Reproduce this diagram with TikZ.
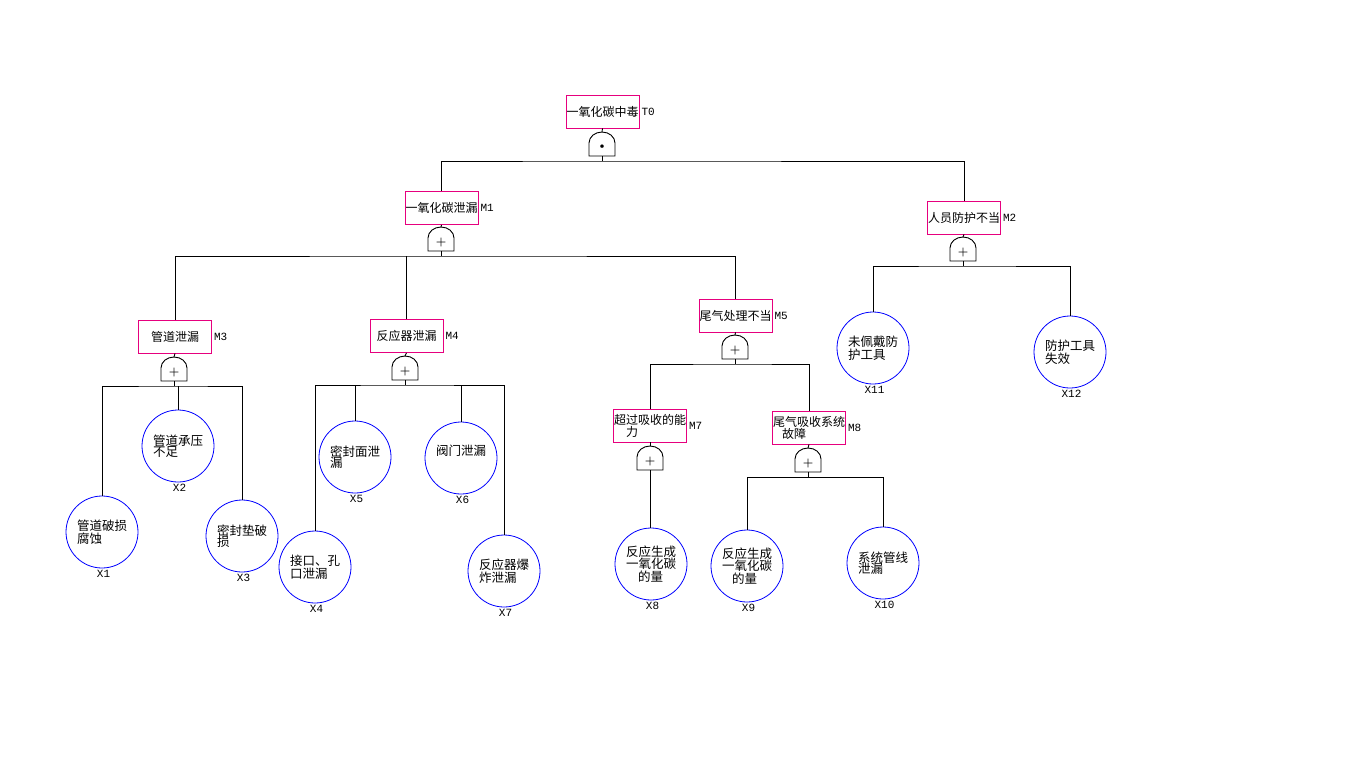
\documentclass[tikz,border=0pt]{standalone}
\usepackage{fontspec}
\newfontfamily\cjk{Noto Sans CJK SC}
\newfontfamily\labfont{Liberation Mono}
\usetikzlibrary{positioning}

\definecolor{boxpink}{RGB}{230,0,126}
\definecolor{evblue}{RGB}{0,0,255}

\tikzset{
  event/.style={draw=boxpink, line width=0.8pt, minimum width=73pt, minimum height=33pt,
    inner sep=0.5pt, align=left, font=\cjk\fontsize{12}{12}\selectfont},
  basic/.style={circle, draw=evblue, line width=0.8pt, minimum size=72pt, inner sep=0pt,
    align=left, font=\cjk\fontsize{12.5}{11.5}\selectfont},
  tag/.style={font=\labfont\fontsize{11}{11}\selectfont, inner sep=1pt},
  link/.style={line width=0.9pt},
  pics/gate/.style={code={
    \draw[link] (-13,0) -- (-13,13) arc[start angle=180, end angle=0, x radius=13pt, y radius=11pt] -- (13,0) -- cycle;
    \coordinate (-top) at (0,24);
    \coordinate (-bot) at (0,0);
    \coordinate (-bus) at (0,-5);
    \node[inner sep=0pt, font=\bfseries\fontsize{12}{12}\selectfont] (-sign) at (0,9) {#1};
  }},
}

\begin{document}
\begin{tikzpicture}[x=1pt, y=1pt]
  \useasboundingbox (0,0) rectangle (1362,-764);

  % top event and intermediate events
  \node[event] (t0) at (602.5,-111.5) {一氧化碳中毒};
  \node[event] (m1) at (441.5,-208) {一氧化碳泄漏};
  \node[event] (m2) at (964,-217.5) {人员防护不当};
  \node[event] (m3) at (175,-336.5) {管道泄漏};
  \node[event] (m4) at (406.5,-336) {反应器泄漏};
  \node[event] (m5) at (735.5,-315.5) {尾气处理不当};
  \node[event] (m7) at (650,-425.5) {超过吸收的能\\\hspace{12pt}力};
  \node[event] (m8) at (809,-427.5) {尾气吸收系统\\\hspace{9pt}故障};

  \node[tag, right=1pt of t0] (t0t) {T0};
  \node[tag, right=1pt of m1] (m1t) {M1};
  \node[tag, right=1pt of m2] (m2t) {M2};
  \node[tag, right=1pt of m3] (m3t) {M3};
  \node[tag, right=1pt of m4] (m4t) {M4};
  \node[tag, right=1pt of m5] (m5t) {M5};
  \node[tag, right=1pt of m7] (m7t) {M7};
  \node[tag, right=1pt of m8] (m8t) {M8};

  % gates
  \pic (g0) at (602,-156) {gate=\textbullet};
  \pic (g1) at (441,-251) {gate=+};
  \pic (g2) at (963,-261) {gate=+};
  \pic (g3) at (174,-381) {gate=+};
  \pic (g4) at (405,-380) {gate=+};
  \pic (g5) at (735,-359) {gate=+};
  \pic (g7) at (650,-470) {gate=+};
  \pic (g8) at (808,-472) {gate=+};

  % basic events
  \node[basic] (x1) at (102,-532) {管道破损\\腐蚀};
  \node[basic] (x2) at (178,-446) {管道承压\\不足};
  \node[basic] (x3) at (242,-536) {密封垫破\\损};
  \node[basic] (x4) at (315,-567) {接口、孔\\口泄漏};
  \node[basic] (x5) at (355,-457) {密封面泄\\漏};
  \node[basic] (x6) at (461,-458) {阀门泄漏\\\strut};
  \node[basic] (x7) at (504,-571) {反应器爆\\炸泄漏};
  \node[basic] (x8) at (651,-564) {反应生成\\一氧化碳\\\hspace{12pt}的量};
  \node[basic] (x9) at (747,-566) {反应生成\\一氧化碳\\\hspace{10pt}的量};
  \node[basic] (x10) at (883,-563) {系统管线\\泄漏};
  \node[basic] (x11) at (873,-348) {未佩戴防\\护工具};
  \node[basic] (x12) at (1070,-352) {防护工具\\失效};

  \foreach \n/\t in {x1/X1,x2/X2,x3/X3,x4/X4,x5/X5,x6/X6,x7/X7,x8/X8,x9/X9,x10/X10,x11/X11,x12/X12}
    \node[tag, below=1pt of \n, xshift=1.5pt] (\n t) {\t};

  % connectors
  \foreach \e/\g in {t0/g0,m1/g1,m2/g2,m3/g3,m4/g4,m5/g5,m7/g7,m8/g8}
    \draw[link] (\e.south) -- (\g-top);
  \foreach \g in {g0,g1,g2,g3,g4,g5,g8}
    \draw[link] (\g-bot) -- (\g-bus);

  \draw[link] (m1.north) |- (g0-bus) -| (m2.north);
  \draw[link] (m3.north) |- (g1-bus) -| (m5.north);
  \draw[link] (m4.north) -- (m4.north |- g1-bus);
  \draw[link] (x11.north) |- (g2-bus) -| (x12.north);
  \draw[link] (x1.north) |- (g3-bus) -| (x3.north);
  \draw[link] (x2.north) -- (x2.north |- g3-bus);
  \draw[link] (x4.north) |- (g4-bus) -| (x7.north);
  \draw[link] (x5.north) -- (x5.north |- g4-bus);
  \draw[link] (x6.north) -- (x6.north |- g4-bus);
  \draw[link] (m7.north) |- (g5-bus) -| (m8.north);
  \draw[link] (g7-bot) -- (g7-bot |- x8.north);
  \draw[link] (x9.north) |- (g8-bus) -| (x10.north);
\end{tikzpicture}
\end{document}
